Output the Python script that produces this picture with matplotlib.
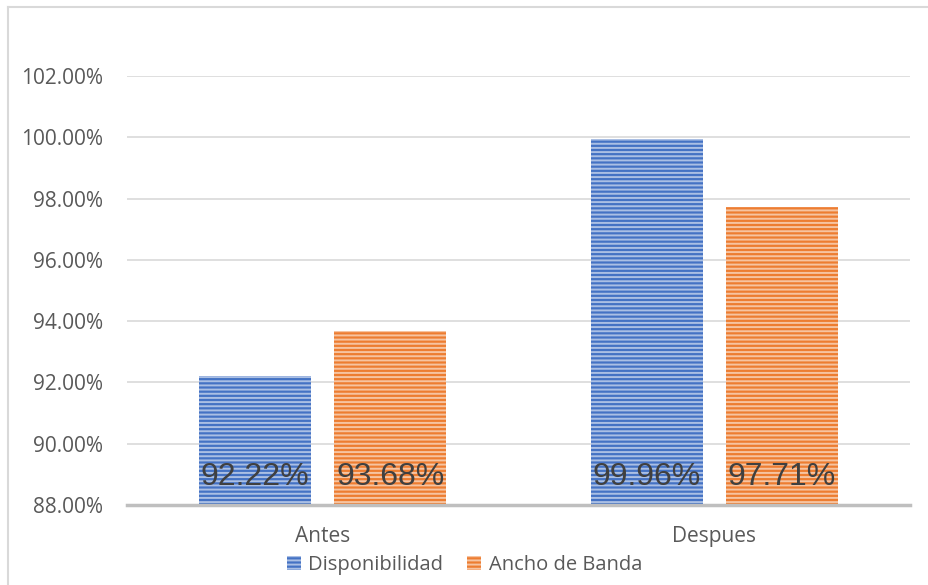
import matplotlib
matplotlib.use("Agg")
import matplotlib.pyplot as plt
from matplotlib.patches import Rectangle
from matplotlib.lines import Line2D
from matplotlib.ticker import FuncFormatter

categories = ["Antes", "Despues"]
series_names = ["Disponibilidad", "Ancho de Banda"]
disponibilidad = [0.9222, 0.9996]
ancho_banda = [0.9368, 0.9771]
y_ticks = [0.88, 0.90, 0.92, 0.94, 0.96, 0.98, 1.00, 1.02]

colors = ["#4472C4", "#ED7D31"]
text_gray = "#595959"
grid_gray = "#D9D9D9"

plt.rcParams["hatch.linewidth"] = 1.4

W, H = 929, 585
fig = plt.figure(figsize=(W / 100, H / 100), dpi=100)

# outer chart border (top and left only)
fig.add_artist(Line2D([8 / W, 1.0], [1 - 7 / H, 1 - 7 / H], color=grid_gray, lw=1.5))
fig.add_artist(Line2D([8 / W, 8 / W], [0.0, 1 - 7 / H], color=grid_gray, lw=1.5))

left, right, top, bottom = 127, 910, 76, 505
ax = fig.add_axes([left / W, 1 - bottom / H, (right - left) / W, (bottom - top) / H])

ymin = y_ticks[0]
ax.set_ylim(ymin, y_ticks[-1])
ax.set_xlim(-0.5, len(categories) - 0.5)

width = 0.286
offsets = [-0.173, 0.173]
series = [disponibilidad, ancho_banda]

for s, (vals, off) in enumerate(zip(series, offsets)):
    for i, v in enumerate(vals):
        x = i + off
        ax.bar(x, v - ymin, bottom=ymin, width=width, color=colors[s],
               linewidth=0, zorder=2)
        ax.bar(x, v - ymin, bottom=ymin, width=width, fill=False,
               edgecolor=(1, 1, 1, 0.55), hatch="----", linewidth=0, zorder=3)
        ax.annotate(f"{v * 100:.2f}%", (x, ymin), xytext=(0, 14.4),
                    textcoords="offset points", ha="center", va="baseline",
                    fontsize=23, color="#404040", family="Liberation Sans",
                    zorder=4)

ax.set_yticks(y_ticks)
ax.yaxis.set_major_formatter(FuncFormatter(lambda v, p: f"{v * 100:.2f}%"))
ax.grid(axis="y", color=grid_gray, lw=1.2, zorder=0)
ax.set_axisbelow(True)

ax.set_xticks(range(len(categories)))
ax.set_xticklabels(categories)
ax.tick_params(axis="both", length=0, labelsize=15, labelcolor=text_gray)
ax.tick_params(axis="y", pad=17)
ax.tick_params(axis="x", pad=15)
for lab in ax.get_xticklabels() + ax.get_yticklabels():
    lab.set_family("Open Sans")

for side in ["top", "right", "left"]:
    ax.spines[side].set_visible(False)
ax.spines["bottom"].set_color("#BFBFBF")
ax.spines["bottom"].set_linewidth(2.5)
ax.spines["bottom"].set_zorder(5)

handles = []
for c in colors:
    handles.append(Rectangle((0, 0), 1, 1, facecolor=c, edgecolor=(1, 1, 1, 0.55),
                             hatch="----", linewidth=0))
leg = fig.legend(handles, series_names, loc="center", bbox_to_anchor=(0.5, 1 - 565 / H),
                 ncol=2, frameon=False, handlelength=0.7, handleheight=0.7,
                 handletextpad=0.35, columnspacing=1.2,
                 prop={"family": "Open Sans", "size": 14.5})
for t in leg.get_texts():
    t.set_color(text_gray)

fig.savefig("out.png", dpi=100, facecolor="white")
